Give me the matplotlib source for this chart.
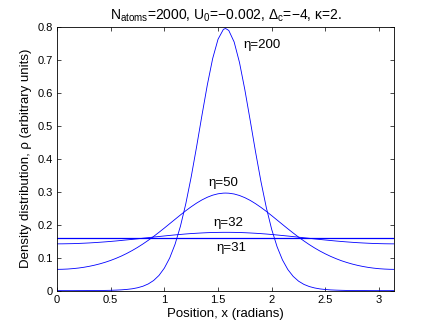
import matplotlib
matplotlib.use("Agg")
import matplotlib.pyplot as plt

plt.rcParams['font.family'] = ['Liberation Sans', 'DejaVu Sans']
plt.rcParams['mathtext.fontset'] = 'custom'
plt.rcParams['mathtext.rm'] = 'Liberation Sans'
plt.rcParams['mathtext.it'] = 'Liberation Sans'

position = [0.00, 0.05, 0.10, 0.15, 0.20, 0.25, 0.30, 0.35, 0.40, 0.45,
            0.50, 0.55, 0.60, 0.65, 0.70, 0.75, 0.80, 0.85, 0.90, 0.95,
            1.00, 1.05, 1.10, 1.15, 1.20, 1.25, 1.30, 1.35, 1.40, 1.45,
            1.50, 1.55, 1.57, 1.60, 1.65, 1.70, 1.75, 1.80, 1.85, 1.90,
            1.95, 2.00, 2.05, 2.10, 2.15, 2.20, 2.25, 2.30, 2.35, 2.40,
            2.45, 2.50, 2.55, 2.60, 2.65, 2.70, 2.75, 2.80, 2.85, 2.90,
            2.95, 3.00, 3.05, 3.10, 3.1416]

density_eta200 = [0.0002, 0.0002, 0.0002, 0.0002, 0.0003, 0.0003, 0.0004, 0.0005, 0.0006, 0.0009,
                  0.0012, 0.0018, 0.0026, 0.0039, 0.0058, 0.0089, 0.0135, 0.0205, 0.0309, 0.0463,
                  0.0685, 0.0993, 0.1411, 0.1957, 0.2639, 0.3450, 0.4358, 0.5313, 0.6235, 0.7038,
                  0.7623, 0.7923, 0.7950, 0.7890, 0.7541, 0.6916, 0.6087, 0.5154, 0.4198, 0.3305,
                  0.2515, 0.1855, 0.1333, 0.0934, 0.0642, 0.0434, 0.0289, 0.0191, 0.0126, 0.0083,
                  0.0054, 0.0036, 0.0024, 0.0017, 0.0012, 0.0008, 0.0006, 0.0005, 0.0004, 0.0003,
                  0.0002, 0.0002, 0.0002, 0.0002, 0.0002]

density_eta50 = [0.0647, 0.0650, 0.0657, 0.0670, 0.0687, 0.0710, 0.0739, 0.0774, 0.0815, 0.0863,
                 0.0918, 0.0981, 0.1051, 0.1130, 0.1217, 0.1312, 0.1416, 0.1527, 0.1645, 0.1770,
                 0.1899, 0.2032, 0.2165, 0.2297, 0.2425, 0.2545, 0.2655, 0.2752, 0.2833, 0.2896,
                 0.2938, 0.2958, 0.2960, 0.2956, 0.2932, 0.2886, 0.2820, 0.2737, 0.2637, 0.2525,
                 0.2404, 0.2275, 0.2142, 0.2009, 0.1877, 0.1749, 0.1625, 0.1508, 0.1397, 0.1295,
                 0.1201, 0.1116, 0.1039, 0.0970, 0.0908, 0.0855, 0.0808, 0.0768, 0.0734, 0.0706,
                 0.0684, 0.0667, 0.0656, 0.0649, 0.0647]

density_eta32 = [0.1420, 0.1421, 0.1424, 0.1427, 0.1433, 0.1440, 0.1448, 0.1458, 0.1469, 0.1481,
                 0.1494, 0.1508, 0.1524, 0.1540, 0.1556, 0.1573, 0.1591, 0.1608, 0.1626, 0.1643,
                 0.1660, 0.1676, 0.1692, 0.1706, 0.1720, 0.1732, 0.1742, 0.1751, 0.1759, 0.1764,
                 0.1768, 0.1770, 0.1770, 0.1770, 0.1768, 0.1764, 0.1758, 0.1750, 0.1741, 0.1730,
                 0.1718, 0.1704, 0.1689, 0.1673, 0.1657, 0.1640, 0.1623, 0.1605, 0.1588, 0.1570,
                 0.1553, 0.1537, 0.1521, 0.1506, 0.1492, 0.1479, 0.1467, 0.1456, 0.1447, 0.1439,
                 0.1432, 0.1427, 0.1423, 0.1421, 0.1420]

position_flat = [0.0, 3.1416]
density_eta31 = [0.159, 0.159]

labels = ['η=200', 'η=50', 'η=32', 'η=31']
label_x = [1.74, 1.41, 1.46, 1.485]
label_y = [0.745, 0.328, 0.206, 0.128]

xticks = [0, 0.5, 1, 1.5, 2, 2.5, 3]
xticklabels = ['0', '0.5', '1', '1.5', '2', '2.5', '3']
yticks = [0, 0.1, 0.2, 0.3, 0.4, 0.5, 0.6, 0.7, 0.8]
yticklabels = ['0', '0.1', '0.2', '0.3', '0.4', '0.5', '0.6', '0.7', '0.8']

fig = plt.figure(figsize=(4.35, 3.27), dpi=100)
ax = fig.add_axes([0.131, 0.111, 0.7754, 0.807])

blue = '#0000ff'
for y in (density_eta200, density_eta50, density_eta32):
    ax.plot(position, y, color=blue, lw=0.6)
ax.plot(position_flat, density_eta31, color=blue, lw=0.9)

for t, x, y in zip(labels, label_x, label_y):
    ax.text(x, y, t, fontsize=9.5, ha='left', va='center')

ax.set_xlim(0, 3.1416)
ax.set_ylim(0, 0.8)
ax.set_xticks(xticks)
ax.set_xticklabels(xticklabels)
ax.set_yticks(yticks)
ax.set_yticklabels(yticklabels)
ax.tick_params(direction='in', top=True, right=True, length=3, width=0.5,
               labelsize=8, pad=3)
for s in ax.spines.values():
    s.set_linewidth(0.6)

ax.set_xlabel('Position, x (radians)', fontsize=9.5, labelpad=2)
ax.set_ylabel('Density distribution, ρ (arbitrary units)', fontsize=9.5, labelpad=4)
ax.set_title('N$_{\\mathregular{atoms}}$=2000, U$_{\\mathregular{0}}$=\u22120.002, '
             '\u0394$_{\\mathregular{c}}$=\u22124, \u03ba=2.',
             fontsize=10, pad=5)

fig.savefig('out.png', dpi=100)
